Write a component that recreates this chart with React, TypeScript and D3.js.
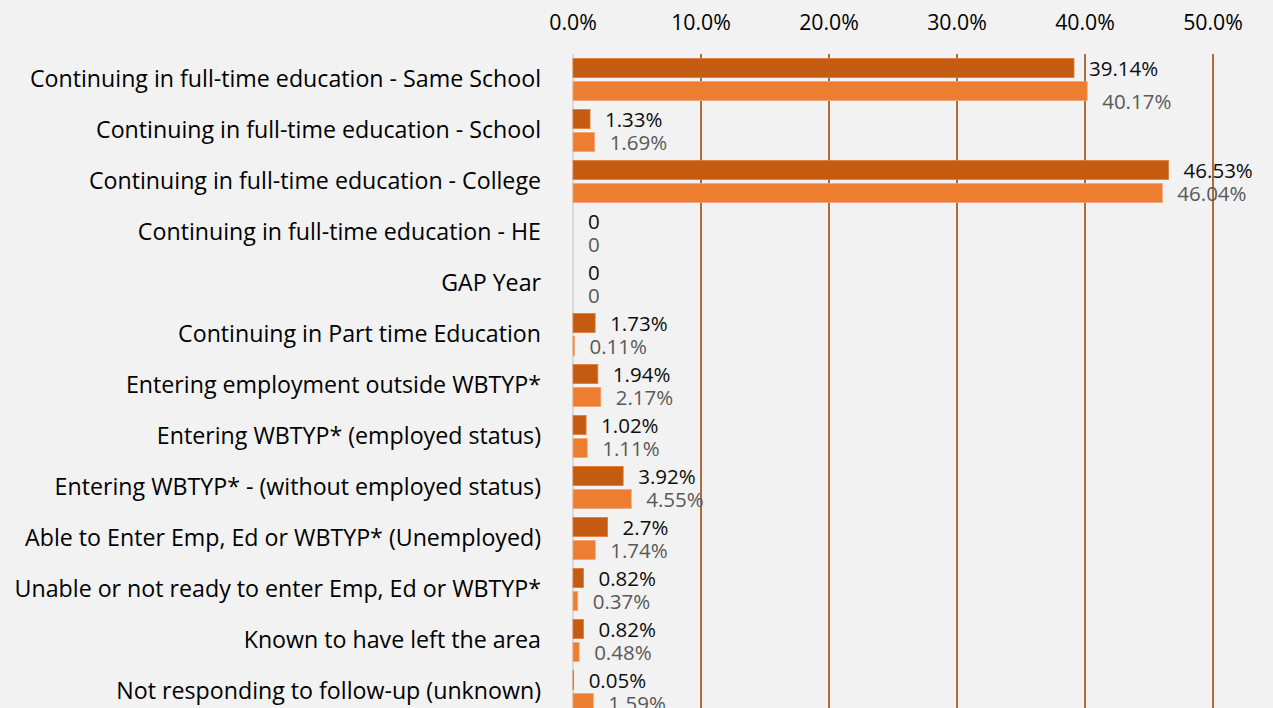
import React from "react";
import * as d3 from "d3";

const categories = [
  "Continuing in full-time education - Same School",
  "Continuing in full-time education - School",
  "Continuing in full-time education - College",
  "Continuing in full-time education - HE",
  "GAP Year",
  "Continuing in Part time Education",
  "Entering employment outside WBTYP*",
  "Entering WBTYP* (employed status)",
  "Entering WBTYP* - (without employed status)",
  "Able to Enter Emp, Ed or WBTYP* (Unemployed)",
  "Unable or not ready to enter Emp, Ed or WBTYP*",
  "Known to have left the area",
  "Not responding to follow-up (unknown)",
];
const seriesA = [39.14, 1.33, 46.53, 0, 0, 1.73, 1.94, 1.02, 3.92, 2.7, 0.82, 0.82, 0.05];
const seriesB = [40.17, 1.69, 46.04, 0, 0, 0.11, 2.17, 1.11, 4.55, 1.74, 0.37, 0.48, 1.59];
const ticks = [0, 10, 20, 30, 40, 50];

const W = 1273;
const H = 708;
const FONT = "'Open Sans', Lato, sans-serif";

export default function App() {
  const x = d3.scaleLinear().domain([0, 50]).range([573, 1213]);
  const top = 54;
  const y = d3
    .scaleBand<number>()
    .domain(categories.map((_, i) => i))
    .range([top, top + 51 * categories.length])
    .paddingInner(0)
    .paddingOuter(0);
  const band = y.bandwidth();
  const barH = 19;
  const gap = 4;
  const fmt = (v: number) => (v === 0 ? "0" : `${v}%`);
  const bottom = top + 51 * categories.length;

  return (
    <div style={{ position: "fixed", left: 0, top: 0, width: W, height: H, background: "#f2f2f2" }}>
      <svg width={W} height={H} style={{ display: "block", fontFamily: FONT }}>
        <rect x={0} y={0} width={W} height={H} fill="#f2f2f2" />
        {ticks.map((t) => (
          <g key={t}>
            {t > 0 && (
              <line x1={x(t)} x2={x(t)} y1={top} y2={bottom} stroke="#9e4a12" strokeWidth={1.6} />
            )}
            <text x={x(t)} y={21} textAnchor="middle" dominantBaseline="central" fontSize={21.3} fill="#000">
              {d3.format(".1f")(t) + "%"}
            </text>
          </g>
        ))}
        <line x1={x(0)} x2={x(0)} y1={top} y2={bottom} stroke="#d9d9d9" strokeWidth={2} />
        {categories.map((c, i) => {
          const cy = (y(i) as number) + band / 2;
          const yA = cy - gap / 2 - barH;
          const yB = cy + gap / 2;
          const a = seriesA[i];
          const b = seriesB[i];
          const nudgeB = i === 0 ? 10 : 0;
          return (
            <g key={c}>
              <text x={541} y={cy - 2} textAnchor="end" dominantBaseline="central" fontSize={23.2} fill="#000">
                {c}
              </text>
              {a > 0 && (
                <rect x={x(0)} y={yA} width={x(a) - x(0)} height={barH} fill="#c55a11" stroke="#e07b3a" strokeWidth={0.8} />
              )}
              {b > 0 && (
                <rect x={x(0)} y={yB} width={x(b) - x(0)} height={barH} fill="#ed7d31" stroke="#f5a46e" strokeWidth={0.8} />
              )}
              <text x={x(a) + 15} y={yA + barH / 2} dominantBaseline="central" fontSize={20.5} fill="#0d0d0d">
                {fmt(a)}
              </text>
              <text x={x(b) + 15} y={yB + barH / 2 + nudgeB} dominantBaseline="central" fontSize={20.5} fill="#595959">
                {fmt(b)}
              </text>
            </g>
          );
        })}
      </svg>
    </div>
  );
}
